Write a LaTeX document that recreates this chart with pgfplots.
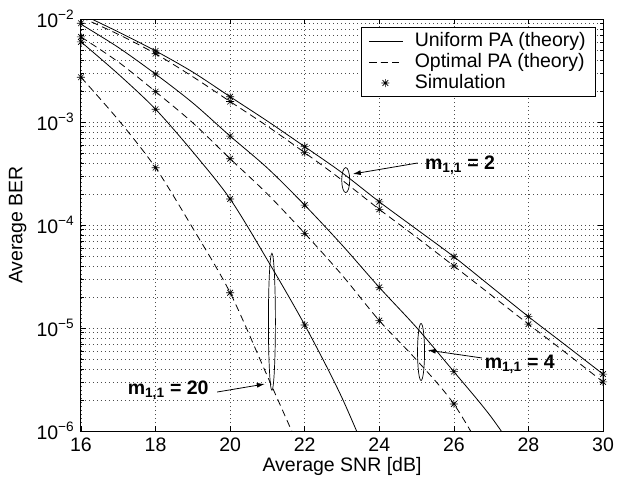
\documentclass[border=0pt]{standalone}
\usepackage{fontspec}
\setmainfont{Liberation Sans}
\usepackage{pgfplots}
\pgfplotsset{compat=1.18}
\usetikzlibrary{arrows.meta}

% MATLAB-like '*' marker (+ and x on top of each other)
\pgfdeclareplotmark{mstar}{%
  \pgfpathmoveto{\pgfqpoint{-\pgfplotmarksize}{0pt}}\pgfpathlineto{\pgfqpoint{\pgfplotmarksize}{0pt}}%
  \pgfpathmoveto{\pgfqpoint{0pt}{-\pgfplotmarksize}}\pgfpathlineto{\pgfqpoint{0pt}{\pgfplotmarksize}}%
  \pgfpathmoveto{\pgfqpoint{-.707\pgfplotmarksize}{-.707\pgfplotmarksize}}\pgfpathlineto{\pgfqpoint{.707\pgfplotmarksize}{.707\pgfplotmarksize}}%
  \pgfpathmoveto{\pgfqpoint{-.707\pgfplotmarksize}{.707\pgfplotmarksize}}\pgfpathlineto{\pgfqpoint{.707\pgfplotmarksize}{-.707\pgfplotmarksize}}%
  \pgfusepathqstroke}
\pgfplotsset{
  line legend 33/.style={legend image code/.code={\draw[##1] plot coordinates {(0bp,0bp) (16bp,0bp) (33bp,0bp)};}},
  mark legend/.style={legend image code/.code={\draw[##1] plot coordinates {(16bp,0bp)};}},
}

\begin{document}
\fontsize{19.5bp}{22bp}\selectfont
\begin{tikzpicture}
\begin{axis}[
  name=ax,
  scale only axis, width=522bp, height=412bp,
  xmin=16, xmax=30, ymode=log, ymin=1e-6, ymax=1e-2,
  xtick={16,18,...,30},
  ytick={1e-6,1e-5,1e-4,1e-3,1e-2},
  yticklabels={10\textsuperscript{−6},10\textsuperscript{−5},10\textsuperscript{−4},10\textsuperscript{−3},10\textsuperscript{−2}},
  /pgf/number format/assume math mode=true,
  xlabel={Average SNR [dB]}, ylabel={Average BER},
  every axis x label/.style={at={(rel axis cs:0.5,0)}, anchor=base, yshift=-40bp},
  every axis y label/.style={at={(rel axis cs:0,0.5)}, xshift=-48bp, rotate=90, anchor=south},
  axis line style={line width=1bp},
  tick align=inside, tick pos=both,
  major tick length=5bp, minor tick length=3bp,
  every tick/.style={black, line width=0.6bp},
  xmajorgrids, ymajorgrids, yminorgrids,
  grid style={black!70, line width=0.5bp, dash pattern=on 0.7bp off 3.3bp},
  legend cell align=left,
  legend style={at={(1,1)}, anchor=north east, xshift=-7bp, yshift=-8bp,
    draw=black, line width=0.8bp, fill=white, inner xsep=8bp, inner ysep=3bp, row sep=0bp,
    /tikz/every odd column/.append style={column sep=10bp}},
  line legend 33,
  every axis plot/.append style={black, line width=0.8bp},
]
% m = 2, uniform PA
\addplot[smooth] coordinates {
  (16,1.12e-2) (17,7.5e-3) (18,4.9e-3) (19,3.05e-3) (20,1.76e-3) (21,1.02e-3)
  (22,5.76e-4) (23,3.22e-4) (24,1.68e-4) (25,9.1e-5) (26,4.92e-5) (27,2.52e-5)
  (28,1.29e-5) (29,6.8e-6) (30,3.57e-6)};
\addlegendentry{Uniform PA (theory)}
% m = 2, optimal PA
\addplot[smooth, dash pattern=on 7bp off 4.5bp] coordinates {
  (16,1.04e-2) (17,7.1e-3) (18,4.6e-3) (19,2.75e-3) (20,1.58e-3) (21,9.1e-4)
  (22,5.04e-4) (23,2.73e-4) (24,1.42e-4) (25,7.6e-5) (26,4.0e-5) (27,2.09e-5)
  (28,1.09e-5) (29,5.76e-6) (30,3.0e-6)};
\addlegendentry{Optimal PA (theory)}
% simulation
\addplot[only marks, mark=mstar, mark size=4bp, line width=0.6bp, mark legend] coordinates {
  (18,4.9e-3) (20,1.76e-3) (22,5.76e-4) (24,1.68e-4) (26,4.92e-5) (28,1.29e-5) (30,3.57e-6)
  (18,4.6e-3) (20,1.58e-3) (22,5.04e-4) (24,1.42e-4) (26,4.0e-5) (28,1.09e-5) (30,3.0e-6)
  (16,9.1e-3) (18,2.92e-3) (20,7.3e-4) (22,1.56e-4) (24,2.48e-5) (26,3.77e-6)
  (16,6.7e-3) (18,1.97e-3) (20,4.4e-4) (22,8.3e-5) (24,1.18e-5) (26,1.83e-6)
  (16,6.0e-3) (18,1.33e-3) (20,1.79e-4) (22,1.07e-5)
  (16,2.72e-3) (18,3.6e-4) (20,2.2e-5)};
\addlegendentry{Simulation}
% m = 4
\addplot[smooth] coordinates {
  (16,8.9e-3) (17,5.3e-3) (18,2.92e-3) (19,1.53e-3) (20,7.3e-4) (21,3.57e-4)
  (22,1.56e-4) (23,6.4e-5) (24,2.48e-5) (25,1.01e-5) (26,3.77e-6) (27,1.37e-6) (28,4.1e-7)};
\addplot[smooth, dash pattern=on 7bp off 4.5bp] coordinates {
  (16,6.7e-3) (17,3.83e-3) (18,1.97e-3) (19,9.8e-4) (20,4.4e-4) (21,2.0e-4)
  (22,8.3e-5) (23,3.27e-5) (24,1.18e-5) (25,4.89e-6) (26,1.83e-6) (27,4.5e-7)};
% m = 20
\addplot[smooth] coordinates {
  (16,6.0e-3) (17,2.92e-3) (18,1.33e-3) (19,5.12e-4) (20,1.79e-4) (21,4.57e-5)
  (22,1.07e-5) (23,2.1e-6) (24,3.0e-7)};
\addplot[smooth, dash pattern=on 7bp off 4.5bp] coordinates {
  (16,2.72e-3) (17,1.05e-3) (18,3.6e-4) (19,9.3e-5) (20,2.2e-5) (21,3.4e-6) (22,5.2e-7)};

% annotations
\draw[line width=0.7bp] (axis cs:23.10,2.73e-4) ellipse [x radius=4bp, y radius=12.5bp];
\draw[line width=0.8bp, -{Latex[length=8bp,width=5bp]}] (axis cs:25.03,4.0e-4) -- (axis cs:23.29,3.13e-4);
\node[anchor=west, font=\bfseries] at (axis cs:25.05,3.83e-4) {m\textsubscript{1,1} = 2};

\draw[line width=0.7bp] (axis cs:25.12,5.85e-6) ellipse [x radius=3.5bp, y radius=28.5bp];
\draw[line width=0.8bp, -{Latex[length=8bp,width=5bp]}] (axis cs:26.75,5.12e-6) -- (axis cs:25.30,6.1e-6);
\node[anchor=west, font=\bfseries] at (axis cs:26.65,4.4e-6) {m\textsubscript{1,1} = 4};

\draw[line width=0.7bp] (axis cs:21.12,1.15e-5) ellipse [x radius=3.5bp, y radius=68.5bp];
\draw[line width=0.8bp, -{Latex[length=8bp,width=5bp]}] (axis cs:19.65,2.39e-6) -- (axis cs:20.93,2.86e-6);
\node[anchor=east, font=\bfseries] at (axis cs:19.6,2.5e-6) {m\textsubscript{1,1} = 20};
\end{axis}
\pgfresetboundingbox
\path[use as bounding box] (ax.south west) ++(-81bp,-49bp) rectangle ++(629bp,480bp);
\end{tikzpicture}
\end{document}
